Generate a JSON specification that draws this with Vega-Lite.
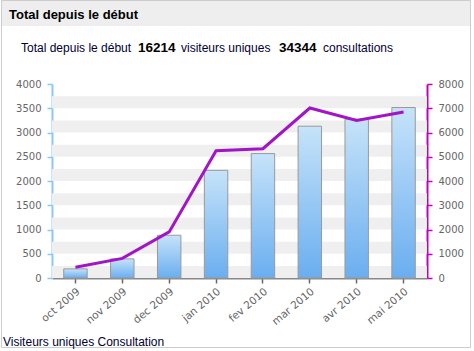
{
  "$schema": "https://vega.github.io/schema/vega-lite/v6.json",
  "width": 375,
  "height": 194,
  "autosize": {"type": "none"},
  "padding": {"left": 52, "top": 84, "right": 47, "bottom": 73},
  "background": "white",
  "config": {"view": {"stroke": null}, "font": "Liberation Sans"},
  "data": {
    "values": [
      {"mois": "oct 2009", "visiteurs": 188, "consultations": 440},
      {"mois": "nov 2009", "visiteurs": 394, "consultations": 810},
      {"mois": "dec 2009", "visiteurs": 882, "consultations": 1900},
      {"mois": "jan 2010", "visiteurs": 2220, "consultations": 5250},
      {"mois": "fev 2010", "visiteurs": 2565, "consultations": 5330},
      {"mois": "mar 2010", "visiteurs": 3130, "consultations": 7010},
      {"mois": "avr 2010", "visiteurs": 3275, "consultations": 6500},
      {"mois": "mai 2010", "visiteurs": 3515, "consultations": 6845}
    ]
  },
  "layer": [
    {
      "data": {"values": [{}]},
      "mark": {"type": "rect", "fill": "#eeeeee", "stroke": null},
      "encoding": {
        "x": {"value": -51}, "x2": {"value": 418},
        "y": {"value": -83}, "y2": {"value": -58}
      }
    },
    {
      "data": {"values": [{}]},
      "mark": {"type": "rect", "fill": null, "stroke": "#cccccc", "strokeWidth": 1},
      "encoding": {
        "x": {"value": -50.5}, "x2": {"value": 418.5},
        "y": {"value": -83.5}, "y2": {"value": 263.5}
      }
    },
    {
      "layer": [
        {
          "data": {
            "values": [
              {"lo": 0, "hi": 250}, {"lo": 500, "hi": 750}, {"lo": 1000, "hi": 1250},
              {"lo": 1500, "hi": 1750}, {"lo": 2000, "hi": 2250}, {"lo": 2500, "hi": 2750},
              {"lo": 3000, "hi": 3250}, {"lo": 3500, "hi": 3750}
            ]
          },
          "mark": {"type": "rect", "fill": "#efefef"},
          "encoding": {
            "y": {"field": "lo", "type": "quantitative", "scale": {"domain": [0, 4000], "nice": false},
              "axis": {"title": null, "format": "d", "values": [0,500,1000,1500,2000,2500,3000,3500,4000], "grid": false,
                "domainColor": "#8ec6fb", "domainWidth": 2, "tickColor": "#8ec6fb", "tickSize": 5, "tickWidth": 1.5,
                "labelColor": "#666666", "labelFont": "DejaVu Sans", "labelFontSize": 10, "labelPadding": 6}},
            "y2": {"field": "hi"}
          }
        },
        {
          "mark": {
            "type": "bar",
            "stroke": "#999999",
            "strokeWidth": 1,
            "color": {
              "gradient": "linear", "x1": 0, "y1": 0, "x2": 0, "y2": 1,
              "stops": [{"offset": 0, "color": "#c6e3f9"}, {"offset": 1, "color": "#6aaef0"}]
            }
          },
          "encoding": {
            "x": {"field": "mois", "type": "ordinal", "sort": null,
              "scale": {"paddingInner": 0.5, "paddingOuter": 0.25},
              "axis": {"title": null, "labelAngle": -40, "domainColor": "#888888", "domainWidth": 2,
                "tickColor": "#666666", "tickSize": 5, "tickWidth": 1.5,
                "labelColor": "#666666", "labelFont": "DejaVu Sans", "labelFontSize": 10.5, "labelPadding": 3}},
            "y": {"field": "visiteurs", "type": "quantitative", "scale": {"domain": [0, 4000], "nice": false},
              "axis": {"title": null, "format": "d", "values": [0,500,1000,1500,2000,2500,3000,3500,4000], "grid": false,
                "domainColor": "#8ec6fb", "domainWidth": 2, "tickColor": "#8ec6fb", "tickSize": 5, "tickWidth": 1.5,
                "labelColor": "#666666", "labelFont": "DejaVu Sans", "labelFontSize": 10, "labelPadding": 6}}
          }
        }
      ]
    },
    {
      "mark": {"type": "line", "strokeWidth": 3, "strokeJoin": "miter", "color": "#a214c8"},
      "encoding": {
        "x": {"field": "mois", "type": "ordinal", "sort": null, "bandPosition": 0.5},
        "y": {"field": "consultations", "type": "quantitative", "scale": {"domain": [0, 8000], "nice": false},
          "axis": {"orient": "right", "title": null, "format": "d", "values": [0,1000,2000,3000,4000,5000,6000,7000,8000], "grid": false,
            "domainColor": "#c000c0", "domainWidth": 2, "tickColor": "#c000c0", "tickSize": 5, "tickWidth": 1.5,
            "labelColor": "#666666", "labelFont": "DejaVu Sans", "labelFontSize": 10, "labelPadding": 6}}
      }
    },
    {
      "data": {"values": [{}]},
      "mark": {"type": "text", "text": "Total depuis le début", "x": -43, "y": -65.5, "align": "left", "baseline": "alphabetic",
        "font": "Liberation Sans", "fontSize": 13, "fontWeight": "bold", "color": "#000000"},
      "encoding": {}
    },
    {
      "data": {"values": [{}]},
      "mark": {"type": "text", "text": "Total depuis le début", "x": -31, "y": -32, "align": "left", "baseline": "alphabetic",
        "font": "Liberation Sans", "fontSize": 12, "color": "#000033"},
      "encoding": {}
    },
    {
      "data": {"values": [{}]},
      "mark": {"type": "text", "text": "16214", "x": 86, "y": -32, "align": "left", "baseline": "alphabetic",
        "font": "Liberation Sans", "fontSize": 13.5, "fontWeight": "bold", "color": "#000000"},
      "encoding": {}
    },
    {
      "data": {"values": [{}]},
      "mark": {"type": "text", "text": "visiteurs uniques", "x": 129, "y": -32, "align": "left", "baseline": "alphabetic",
        "font": "Liberation Sans", "fontSize": 12, "color": "#000033"},
      "encoding": {}
    },
    {
      "data": {"values": [{}]},
      "mark": {"type": "text", "text": "34344", "x": 227, "y": -32, "align": "left", "baseline": "alphabetic",
        "font": "Liberation Sans", "fontSize": 13.5, "fontWeight": "bold", "color": "#000000"},
      "encoding": {}
    },
    {
      "data": {"values": [{}]},
      "mark": {"type": "text", "text": "consultations", "x": 271, "y": -32, "align": "left", "baseline": "alphabetic",
        "font": "Liberation Sans", "fontSize": 12, "color": "#000033"},
      "encoding": {}
    },
    {
      "data": {"values": [{}]},
      "mark": {"type": "text", "text": "Visiteurs uniques Consultation", "x": -49, "y": 262, "align": "left", "baseline": "alphabetic",
        "font": "Liberation Sans", "fontSize": 12, "color": "#000033"},
      "encoding": {}
    }
  ],
  "resolve": {"scale": {"y": "independent"}}
}
